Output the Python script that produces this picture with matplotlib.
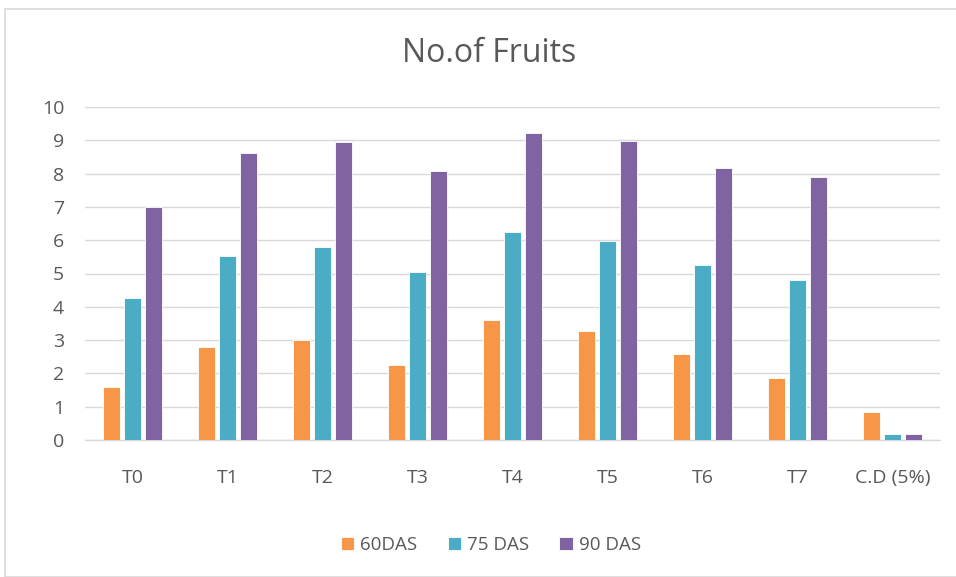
import numpy as np
import matplotlib
matplotlib.use("Agg")
import matplotlib.pyplot as plt
from matplotlib.patches import Rectangle

categories = ["T0", "T1", "T2", "T3", "T4", "T5", "T6", "T7", "C.D (5%)"]
das_60 = [1.6, 2.79, 3.0, 2.25, 3.6, 3.27, 2.59, 1.86, 0.84]
das_75 = [4.26, 5.52, 5.79, 5.06, 6.26, 5.99, 5.26, 4.79, 0.18]
das_90 = [7.0, 8.63, 8.96, 8.09, 9.23, 8.98, 8.16, 7.9, 0.18]
series_labels = ["60DAS", "75 DAS", "90 DAS"]
colors = ["#F79646", "#4BACC6", "#8064A2"]
text_gray = "#595959"

plt.rcParams["font.family"] = ["Open Sans", "DejaVu Sans"]

fig = plt.figure(figsize=(9.56, 5.77), dpi=100)
ax = fig.add_axes([85 / 956, 137 / 577, 855 / 956, 333 / 577])

# outer chart frame
fig.patches.append(Rectangle((5 / 956, 0), 1.2, 568 / 577, transform=fig.transFigure,
                             fill=False, edgecolor="#D9D9D9", linewidth=1.2))

x = np.arange(len(categories))
width = 0.175
step = 0.22
for i, (vals, lab, col) in enumerate(zip([das_60, das_75, das_90], series_labels, colors)):
    ax.bar(x + (i - 1) * step, vals, width, color=col, label=lab,
           edgecolor="white", linewidth=0.6, zorder=3)

ax.set_xlim(-0.5, len(categories) - 0.5)
ax.set_ylim(0, 10)
ax.set_yticks(range(0, 11))
ax.grid(axis="y", color="#D9D9D9", linewidth=1, zorder=0)
ax.set_axisbelow(True)
for s in ["top", "right", "left"]:
    ax.spines[s].set_visible(False)
ax.spines["bottom"].set_color("#D9D9D9")
ax.spines["bottom"].set_linewidth(1)
ax.set_xticks(x)
ax.set_xticklabels(categories)
ax.tick_params(axis="both", length=0, labelsize=14, colors=text_gray)
ax.tick_params(axis="x", pad=21)
ax.tick_params(axis="y", pad=15)

fig.text(489 / 956, 1 - 53 / 577, "No.of Fruits", ha="center", va="center",
         fontsize=23, color=text_gray)

leg = fig.legend(loc="center", bbox_to_anchor=(491 / 956, 1 - 545 / 577), ncol=3,
                 frameon=False, fontsize=13.5, handlelength=0.7, handleheight=0.7,
                 columnspacing=1.6, handletextpad=0.35)
for t in leg.get_texts():
    t.set_color(text_gray)

fig.savefig("out.png", dpi=100)
